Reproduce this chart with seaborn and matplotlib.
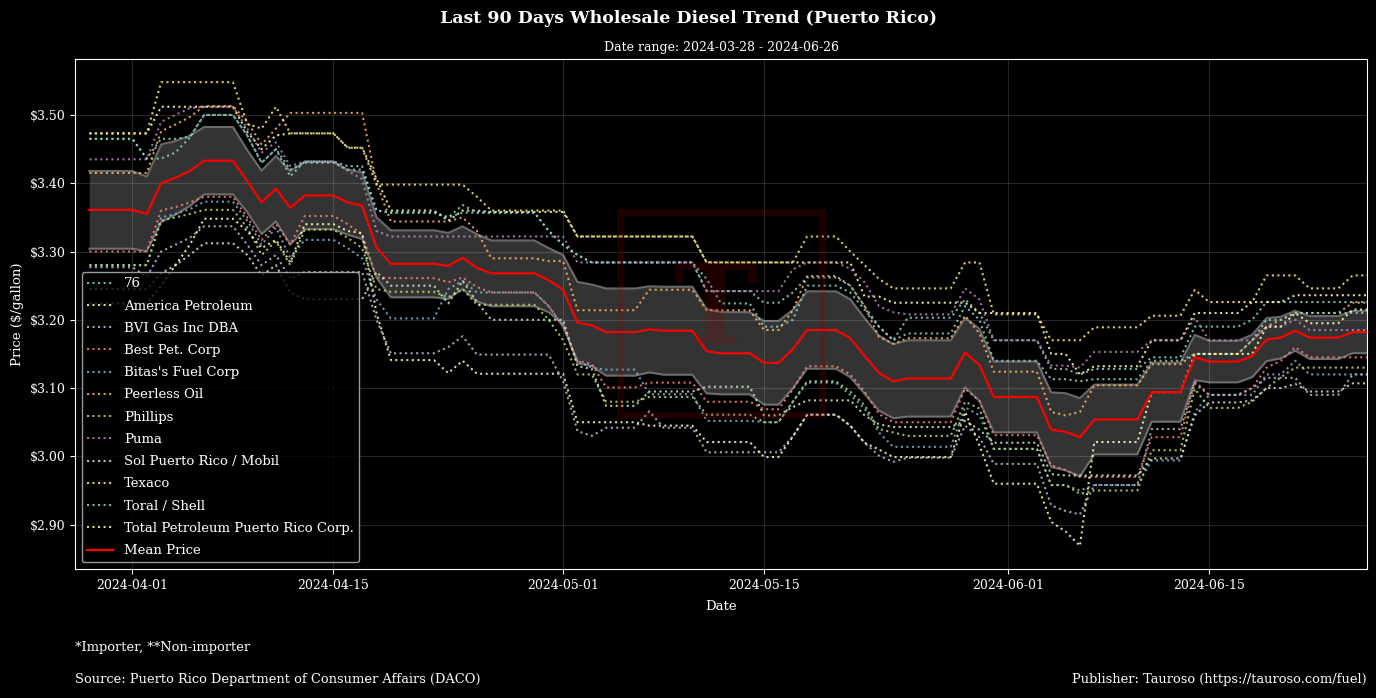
import numpy as np
import pandas as pd
import matplotlib
matplotlib.use("Agg")
import matplotlib.pyplot as plt
import matplotlib.dates as mdates
import matplotlib.ticker as mticker
from matplotlib.patches import Rectangle
import seaborn as sns

first_day = "2024-03-29"
range_start, range_end = "2024-03-28", "2024-06-26"
run_days = [4, 1, 1, 1, 1, 3, 1, 1, 1, 1, 3, 1, 1, 1, 4, 1, 1, 1, 4, 1,
            1, 1, 1, 3, 1, 3, 1, 3, 2, 1, 3, 1, 1, 1, 1, 4, 1, 1, 4, 1,
            1, 1, 4, 3, 1, 3, 1, 1, 1, 1, 3, 2]

companies = ["76", "America Petroleum", "BVI Gas Inc DBA", "Best Pet. Corp",
             "Bitas's Fuel Corp", "Peerless Oil", "Phillips", "Puma",
             "Sol Puerto Rico / Mobil", "Texaco", "Toral / Shell",
             "Total Petroleum Puerto Rico Corp."]

p_76 = [3.465, 3.436, 3.436, 3.445, 3.467, 3.500, 3.470, 3.430, 3.450, 3.410,
        3.432, 3.425, 3.425, 3.360, 3.357, 3.350, 3.357, 3.357, 3.357, 3.330,
        3.310, 3.295, 3.284, 3.284, 3.284, 3.284, 3.260, 3.224, 3.190, 3.200,
        3.250, 3.240, 3.215, 3.190, 3.170, 3.203, 3.230, 3.210, 3.170, 3.128,
        3.128, 3.120, 3.128, 3.145, 3.190, 3.190, 3.200, 3.226, 3.226, 3.226,
        3.226, 3.226]
p_america = [3.473, 3.473, 3.512, 3.512, 3.512, 3.512, 3.475, 3.450, 3.470, 3.473,
             3.473, 3.452, 3.452, 3.407, 3.360, 3.345, 3.360, 3.360, 3.358, 3.358,
             3.358, 3.322, 3.322, 3.322, 3.322, 3.322, 3.284, 3.284, 3.284, 3.284,
             3.284, 3.284, 3.234, 3.234, 3.225, 3.225, 3.225, 3.210, 3.210, 3.150,
             3.150, 3.120, 3.132, 3.170, 3.210, 3.210, 3.226, 3.226, 3.226, 3.236,
             3.236, 3.236]
p_bvi = [3.277, 3.263, 3.300, 3.310, 3.320, 3.337, 3.310, 3.280, 3.295, 3.260,
         3.270, 3.270, 3.270, 3.200, 3.151, 3.160, 3.176, 3.149, 3.149, 3.149,
         3.110, 3.037, 3.030, 3.042, 3.066, 3.042, 3.006, 3.006, 3.006, 3.029,
         3.061, 3.045, 3.020, 3.001, 2.992, 2.998, 3.045, 3.028, 2.989, 2.928,
         2.920, 2.915, 2.958, 3.040, 3.107, 3.090, 3.100, 3.115, 3.115, 3.115,
         3.090, 3.120]
p_best = [3.300, 3.300, 3.360, 3.365, 3.372, 3.380, 3.350, 3.317, 3.340, 3.310,
          3.352, 3.340, 3.325, 3.262, 3.261, 3.255, 3.262, 3.248, 3.240, 3.220,
          3.190, 3.140, 3.135, 3.101, 3.108, 3.108, 3.080, 3.080, 3.069, 3.098,
          3.132, 3.120, 3.095, 3.062, 3.050, 3.050, 3.099, 3.081, 3.031, 2.987,
          2.980, 2.970, 2.970, 3.028, 3.110, 3.090, 3.100, 3.130, 3.140, 3.160,
          3.145, 3.145]
p_bitas = [3.280, 3.280, 3.350, 3.355, 3.362, 3.373, 3.345, 3.310, 3.335, 3.290,
           3.317, 3.305, 3.290, 3.230, 3.202, 3.245, 3.257, 3.240, 3.240, 3.220,
           3.190, 3.140, 3.130, 3.127, 3.091, 3.091, 3.052, 3.052, 3.050, 3.080,
           3.108, 3.090, 3.070, 3.035, 3.014, 3.014, 3.072, 3.060, 3.011, 2.958,
           2.958, 2.950, 2.958, 2.994, 3.065, 3.090, 3.090, 3.120, 3.120, 3.140,
           3.120, 3.120]
p_peerless = [3.415, 3.415, 3.476, 3.486, 3.497, 3.513, 3.490, 3.457, 3.480, 3.503,
              3.503, 3.503, 3.503, 3.400, 3.344, 3.344, 3.350, 3.330, 3.290, 3.286,
              3.286, 3.214, 3.214, 3.214, 3.244, 3.244, 3.214, 3.214, 3.185, 3.214,
              3.264, 3.250, 3.220, 3.175, 3.165, 3.173, 3.206, 3.180, 3.124, 3.065,
              3.060, 3.065, 3.104, 3.135, 3.150, 3.150, 3.170, 3.190, 3.200, 3.210,
              3.210, 3.225]
p_phillips = [3.280, 3.280, 3.345, 3.350, 3.355, 3.361, 3.335, 3.295, 3.315, 3.280,
              3.332, 3.320, 3.305, 3.245, 3.241, 3.233, 3.245, 3.222, 3.222, 3.200,
              3.170, 3.120, 3.120, 3.080, 3.087, 3.087, 3.061, 3.061, 3.050, 3.080,
              3.110, 3.095, 3.075, 3.040, 3.035, 3.030, 3.080, 3.070, 3.011, 2.958,
              2.958, 2.945, 2.950, 3.009, 3.099, 3.071, 3.080, 3.100, 3.116, 3.130,
              3.130, 3.130]
p_puma = [3.435, 3.435, 3.490, 3.500, 3.510, 3.512, 3.480, 3.445, 3.460, 3.425,
          3.432, 3.418, 3.406, 3.330, 3.322, 3.322, 3.322, 3.322, 3.322, 3.322,
          3.322, 3.284, 3.284, 3.284, 3.284, 3.284, 3.242, 3.242, 3.242, 3.274,
          3.284, 3.275, 3.255, 3.220, 3.211, 3.208, 3.246, 3.230, 3.170, 3.133,
          3.133, 3.130, 3.153, 3.170, 3.203, 3.170, 3.170, 3.190, 3.190, 3.200,
          3.185, 3.185]
p_sol = [3.245, 3.245, 3.268, 3.280, 3.295, 3.312, 3.295, 3.265, 3.280, 3.240,
         3.230, 3.230, 3.230, 3.270, 3.250, 3.224, 3.257, 3.226, 3.200, 3.200,
         3.200, 3.132, 3.128, 3.074, 3.095, 3.095, 3.102, 3.102, 3.060, 3.072,
         3.082, 3.082, 3.060, 3.047, 3.043, 3.043, 3.052, 3.039, 3.020, 2.974,
         2.972, 2.972, 2.972, 2.997, 3.060, 3.079, 3.082, 3.100, 3.100, 3.106,
         3.095, 3.107]
p_texaco = [3.473, 3.473, 3.548, 3.548, 3.548, 3.548, 3.487, 3.480, 3.512, 3.473,
            3.473, 3.452, 3.452, 3.398, 3.398, 3.398, 3.398, 3.380, 3.360, 3.360,
            3.360, 3.322, 3.322, 3.322, 3.322, 3.322, 3.284, 3.284, 3.284, 3.284,
            3.322, 3.300, 3.280, 3.260, 3.246, 3.246, 3.284, 3.284, 3.208, 3.170,
            3.170, 3.170, 3.189, 3.206, 3.244, 3.226, 3.226, 3.265, 3.265, 3.265,
            3.246, 3.265]
p_toral = [3.465, 3.436, 3.465, 3.465, 3.468, 3.500, 3.470, 3.430, 3.450, 3.420,
           3.430, 3.420, 3.420, 3.360, 3.357, 3.350, 3.368, 3.357, 3.357, 3.330,
           3.310, 3.295, 3.284, 3.284, 3.284, 3.284, 3.242, 3.242, 3.225, 3.240,
           3.262, 3.250, 3.220, 3.190, 3.170, 3.180, 3.220, 3.200, 3.140, 3.113,
           3.113, 3.110, 3.113, 3.140, 3.150, 3.150, 3.170, 3.200, 3.200, 3.210,
           3.210, 3.210]
p_total = [3.224, 3.224, 3.250, 3.280, 3.310, 3.348, 3.330, 3.305, 3.317, 3.284,
           3.340, 3.330, 3.327, 3.210, 3.141, 3.122, 3.140, 3.121, 3.121, 3.121,
           3.121, 3.050, 3.050, 3.050, 3.045, 3.045, 3.021, 3.021, 2.999, 3.029,
           3.061, 3.045, 3.020, 3.010, 2.999, 2.999, 3.065, 3.016, 2.960, 2.904,
           2.890, 2.869, 3.021, 3.094, 3.150, 3.150, 3.150, 3.190, 3.190, 3.210,
           3.195, 3.215]

series = [p_76, p_america, p_bvi, p_best, p_bitas, p_peerless, p_phillips,
          p_puma, p_sol, p_texaco, p_toral, p_total]

# build long dataframe
dates = pd.date_range(first_day, periods=sum(run_days), freq="D")
frames = []
for name, runs in zip(companies, series):
    daily = np.repeat(runs, run_days)
    frames.append(pd.DataFrame({"date": dates, "company": name, "price": daily}))
df = pd.concat(frames, ignore_index=True)

# mean price with 95% confidence band
stats = df.groupby("date")["price"].agg(["mean", "sem"])
stats["lo"] = stats["mean"] - 1.96 * stats["sem"]
stats["hi"] = stats["mean"] + 1.96 * stats["sem"]

plt.style.use("dark_background")
plt.rcParams["font.family"] = "DejaVu Serif"
colors = plt.rcParams["axes.prop_cycle"].by_key()["color"]

fig, ax = plt.subplots(figsize=(13.76, 6.98), dpi=100)
fig.subplots_adjust(left=0.0545, right=0.9935, top=0.9155, bottom=0.1848)

ax.fill_between(stats.index, stats["lo"], stats["hi"], color="grey", alpha=0.4, linewidth=0, zorder=1)
ax.plot(stats.index, stats["lo"], color="grey", linewidth=1.5, alpha=0.8, zorder=1)
ax.plot(stats.index, stats["hi"], color="grey", linewidth=1.5, alpha=0.8, zorder=1)

for i, name in enumerate(companies):
    sub = df[df["company"] == name]
    sns.lineplot(data=sub, x="date", y="price", ax=ax, color=colors[i % len(colors)],
                 linestyle=":", linewidth=1.5, alpha=0.85, label=name, zorder=2)

sns.lineplot(x=stats.index, y=stats["mean"].values, ax=ax, color="red",
             linewidth=1.6, label="Mean Price", zorder=3)

ax.set_xlim(pd.Timestamp(range_start), pd.Timestamp(range_end))
ax.xaxis.set_major_locator(mdates.DayLocator(bymonthday=[1, 15]))
ax.xaxis.set_major_formatter(mdates.DateFormatter("%Y-%m-%d"))
ax.yaxis.set_major_formatter(mticker.StrMethodFormatter("${x:.2f}"))
ax.tick_params(labelsize=9)
ax.grid(True, color="white", alpha=0.15, linewidth=0.8)

ax.set_xlabel("Date", fontsize=9.5, labelpad=6)
ax.set_ylabel("Price ($/gallon)", fontsize=9.5)
ax.set_title("Date range: %s - %s" % (range_start, range_end), fontsize=9, pad=6)
fig.suptitle("Last 90 Days Wholesale Diesel Trend (Puerto Rico)", fontsize=12.5,
             fontweight="bold", y=0.974, va="center")

ax.legend(loc="lower left", fontsize=9.5, labelspacing=0.7, framealpha=0.8,
          facecolor="black", edgecolor="0.75")

# watermark logo
fig.add_artist(Rectangle((0.4506, 0.4054), 0.1468, 0.2908, transform=fig.transFigure,
                         fill=False, edgecolor=(0.6, 0, 0), alpha=0.2, linewidth=5))
fig.text(0.5196, 0.553, "T", fontsize=80, fontweight="bold", color=(0.6, 0, 0),
         alpha=0.2, ha="center", va="center")

fig.text(75 / 1376, 1 - 648 / 698, "*Importer, **Non-importer", fontsize=9.4, va="center")
fig.text(75 / 1376, 1 - 679 / 698, "Source: Puerto Rico Department of Consumer Affairs (DACO)",
         fontsize=9.4, va="center")
fig.text(1367 / 1376, 1 - 679 / 698, "Publisher: Tauroso (https://tauroso.com/fuel)",
         fontsize=9.4, va="center", ha="right")

fig.savefig("out.png", dpi=100)
